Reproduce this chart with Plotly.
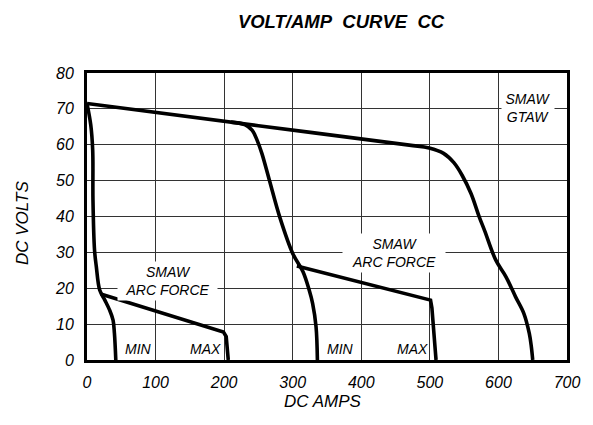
import plotly.graph_objects as go

# ---- data ----
# upper curve (SMAW / GTAW max)
max_amps = [0, 250, 470, 499, 520, 535, 547, 560, 572, 580, 596, 611, 625, 637, 645, 648, 650]
max_volts = [71.5, 65.3, 59.9, 59.1, 57.6, 55.0, 51.5, 46.4, 39.9, 36.0, 27.9, 23.2, 17.6, 13.0, 7.4, 3.7, 0]

# middle curve branching off the upper line
mid_amps = [210, 230, 241, 248, 255, 266, 281, 300, 315, 324, 329, 334, 336]
mid_volts = [66.3, 65.6, 64.0, 61.3, 57.6, 50.1, 39.9, 29.7, 24.6, 19.5, 15.8, 9.3, 0]

# minimum curve
min_amps = [0, 5.5, 8.3, 8.7, 11, 13.6, 18.5, 26, 33, 38, 40, 42]
min_volts = [71.5, 65.5, 58.5, 44.6, 30.6, 26.0, 19.5, 16.7, 13.9, 11.1, 7.4, 0]

# arc force lines
arc1_amps = [20, 192, 199, 203, 206]
arc1_volts = [18.4, 8.4, 7.8, 6.5, 0]
arc2_amps = [306, 501, 503, 509]
arc2_volts = [26.2, 16.7, 14.5, 0]

x_ticks = [0, 100, 200, 300, 400, 500, 600, 700]
y_ticks = [0, 10, 20, 30, 40, 50, 60, 70, 80]

FONT = "Liberation Sans, Arial, sans-serif"

fig = go.Figure()
line = dict(color="black", width=3.6)
for xs, ys, shp in [(max_amps, max_volts, "spline"), (mid_amps, mid_volts, "spline"),
                    (min_amps, min_volts, "spline"), (arc1_amps, arc1_volts, "linear"),
                    (arc2_amps, arc2_volts, "linear")]:
    fig.add_trace(go.Scatter(x=xs, y=ys, mode="lines", line=dict(line, shape=shp),
                             showlegend=False, hoverinfo="skip"))

lab_font = dict(family=FONT, size=14, color="black")
boxes = [
    ("SMAW<br>ARC FORCE", 117, 22.0, 97),
    ("SMAW<br>ARC FORCE", 448, 29.8, 100),
    ("SMAW<br>GTAW", 643, 70.2, 50),
]
for txt, xa, yv, w in boxes:
    txt = "<br>".join(f"<i>{t}</i>" for t in txt.split("<br>"))
    fig.add_annotation(x=xa, y=yv, text=txt, showarrow=False, font=lab_font,
                       bgcolor="white", width=w, height=36, borderpad=1,
                       xref="x", yref="y")
for txt, xa in [("MIN", 75), ("MAX", 173), ("MIN", 370), ("MAX", 474)]:
    fig.add_annotation(x=xa, y=3.1, text=f"<i>{txt}</i>", showarrow=False, font=lab_font,
                       xref="x", yref="y")

# plot area in pixels: x 87..567, y 73..360
def px(x):
    return (x - 87) / 480

def py(y):
    return (360 - y) / 287

fig.add_annotation(text="<i>DC AMPS</i>", x=px(322), y=py(401), xref="paper", yref="paper",
                   showarrow=False, font=dict(family=FONT, size=17, color="black"),
                   xanchor="center", yanchor="middle")
fig.add_annotation(text="<i>DC VOLTS</i>", x=px(23), y=py(223), xref="paper", yref="paper",
                   showarrow=False, textangle=-90,
                   font=dict(family=FONT, size=17, color="black"),
                   xanchor="center", yanchor="middle")

fig.update_layout(
    width=593, height=425,
    margin=dict(l=87, r=26, t=73, b=65),
    paper_bgcolor="white", plot_bgcolor="white",
    font=dict(family=FONT, color="black"),
    title=dict(text="<b><i>VOLT/AMP&nbsp; CURVE&nbsp; CC</i></b>", x=341 / 593, y=1 - 22 / 425,
               xanchor="center", yanchor="middle", xref="container", yref="container",
               font=dict(family=FONT, size=18.5, color="black")),
)
fig.update_xaxes(range=[0, 700], tickvals=x_ticks, ticktext=[f"<i>{v}</i>" for v in x_ticks],
                 showgrid=True, gridcolor="#333", gridwidth=1,
                 showline=True, linecolor="black", linewidth=3, mirror=True, ticks="",
                 zeroline=False, ticklabelstandoff=6,
                 tickfont=dict(family=FONT, size=16, color="black"))
fig.update_yaxes(range=[0, 80], tickvals=y_ticks, ticktext=[f"<i>{v}</i>" for v in y_ticks],
                 showgrid=True, gridcolor="#333", gridwidth=1,
                 showline=True, linecolor="black", linewidth=3, mirror=True, ticks="",
                 zeroline=False, ticklabelstandoff=7,
                 tickfont=dict(family=FONT, size=16, color="black"))

fig.write_html("out.html", post_script="document.body.style.margin='0';",
               config={"displayModeBar": False})
